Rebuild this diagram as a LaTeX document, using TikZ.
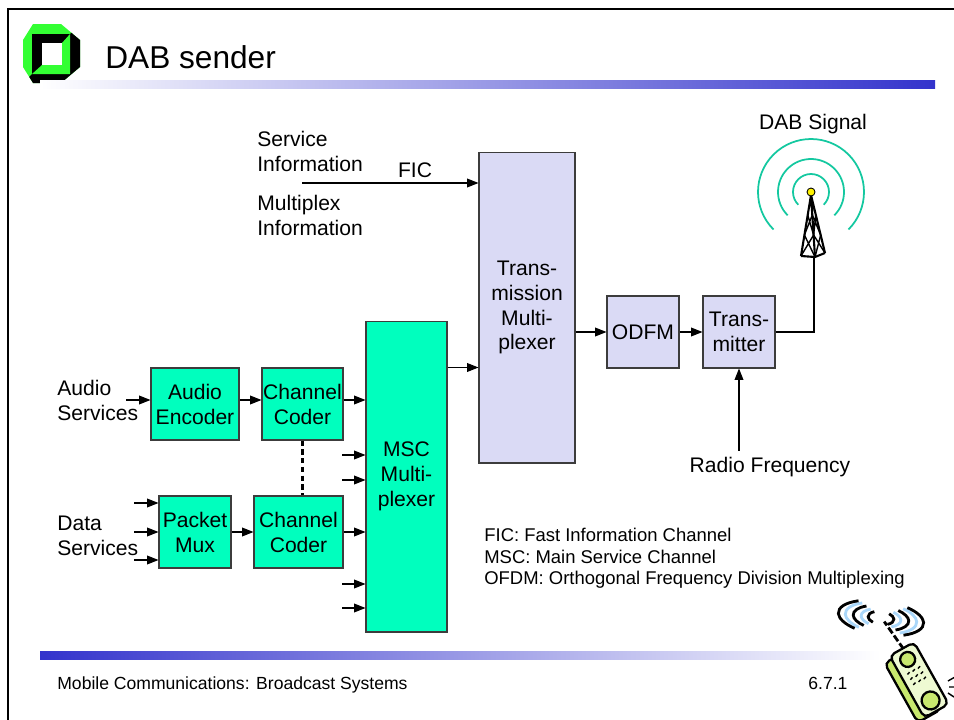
\documentclass[tikz,border=0pt]{standalone}
\usepackage{fontspec}
\setmainfont{Liberation Sans}
\usetikzlibrary{arrows.meta,positioning,calc}

\definecolor{mscgreen}{RGB}{0,255,190}
\definecolor{muxblue}{RGB}{218,218,245}
\definecolor{boxline}{RGB}{60,60,60}
\definecolor{wavegreen}{RGB}{20,200,160}
\definecolor{barblue}{RGB}{51,51,204}
\definecolor{logogreen}{RGB}{51,255,51}
\definecolor{phonelime}{RGB}{200,232,110}
\definecolor{phonepale}{RGB}{238,250,210}
\definecolor{waveblue}{RGB}{170,215,250}

\begin{document}
\begin{tikzpicture}[
  x=0.02cm,y=-0.02cm,
  >={Triangle[length=6.5pt,width=5pt]},
  font=\fontsize{12}{14.2}\selectfont,
  block/.style={draw=boxline, line width=0.6pt, align=center, inner sep=0pt},
  gbox/.style={block, fill=mscgreen},
  pbox/.style={block, fill=muxblue},
  arr/.style={->, line width=0.6pt},
  lbl/.style={align=left, inner sep=0pt},
  plain/.style={anchor=base west, inner sep=0pt}
]
\useasboundingbox (0,0) rectangle (954,720);

% slide frame, logo and title
\draw[line width=1pt] (8,720) -- (8,9) -- (954,9);
\fill[logogreen] (33,24) -- (61,24) -- (80,40) -- (80,67) -- (61,83) -- (33,83) -- (23,67) -- (23,40) -- cycle;
\fill[black] (70,34) -- (71.3,32.7) -- (80,40) -- (80,67) -- (61,83) -- (33,83) -- (29.2,76.9) -- (32,74) -- cycle;
\fill[black] (32,34) rectangle (70,74);
\fill[logogreen] (70,34) -- (70,74) -- (32,74) -- (42,65) -- (62,65) -- (62,43) -- cycle;
\fill[white] (42,43) rectangle (62,65);
\node[plain, font=\fontsize{18}{21}\selectfont] (title) at (105,68) {DAB sender};
\shade[left color=white, right color=barblue] (40,80) rectangle (935,88);

% footer
\shade[left color=barblue, right color=white] (40,651) rectangle (880,659);
\node[plain, font=\fontsize{10}{12}\selectfont] (foot) at (57,689) {Mobile Communications: Broadcast Systems};
\node[plain, font=\fontsize{10}{12}\selectfont] (slide) at (808,689) {6.7.1};

% blocks
\node[gbox, minimum width=1.76cm, minimum height=1.44cm] (enc) at (195,404) {Audio\\Encoder};
\node[gbox, minimum width=1.62cm, minimum height=1.44cm] (cca) at (302.5,404) {Channel\\Coder};
\node[gbox, minimum width=1.44cm, minimum height=1.44cm] (pmux) at (195,532) {Packet\\Mux};
\node[gbox, minimum width=1.78cm, minimum height=1.44cm] (ccd) at (298.5,532) {Channel\\Coder};
\node[gbox, minimum width=1.62cm, minimum height=6.22cm] (msc) at (406.5,476.5) {MSC\\Multi-\\plexer};
\node[pbox, minimum width=1.92cm, minimum height=6.22cm] (tmux) at (527,307.5) {Trans-\\mission\\Multi-\\plexer};
\node[pbox, minimum width=1.44cm, minimum height=1.44cm] (ofdm) at (643,332) {ODFM};
\node[pbox, minimum width=1.44cm, minimum height=1.44cm] (tx) at (739,332) {Trans-\\mitter};

% labels
\node[lbl, anchor=west] (audio) at (57,400) {Audio\\Services};
\node[lbl, anchor=west] (data) at (57,535.5) {Data\\Services};
\node[lbl, anchor=west] (si) at (257,151) {Service\\Information};
\node[lbl, anchor=west] (mi) at (257,215.5) {Multiplex\\Information};
\node (ficlbl) at (415,170) {FIC};
\node (sig) at (813,124) {DAB Signal};
\node (rf) at (770,467) {Radio Frequency};
\node[lbl, anchor=west, font=\fontsize{10.5}{12.2}\selectfont] (legend) at (484,558.5)
  {FIC: Fast Information Channel\\MSC: Main Service Channel\\OFDM: Orthogonal Frequency Division Multiplexing};

% audio path
\coordinate (ain) at (126,400);
\draw[arr] (ain) -- (ain -| enc.west);
\draw[arr] (enc.east |- ain) -- (cca.west |- ain);
\draw[arr] (cca.east |- ain) -- (msc.west |- ain);

% data path
\foreach \y in {503,532,560} {
  \coordinate (din\y) at (134,\y);
  \draw[arr] (din\y) -- (din\y -| pmux.west);
}
\draw[arr] (pmux.east) -- (ccd.west);
\draw[arr] (ccd.east) -- (ccd.east -| msc.west);
\draw[dash pattern=on 3pt off 2pt, line width=1.2pt] (cca.south) -- (cca.south |- ccd.north);

% further MSC inputs
\foreach \y in {455,480,584,608} {
  \coordinate (min\y) at (342,\y);
  \draw[arr] (min\y) -- (min\y -| msc.west);
}

% into the transmission multiplexer and on to the mast
\coordinate (ficin) at (302,183);
\draw[arr] (ficin) -- (ficin -| tmux.west);
\coordinate (mscout) at ($(msc.north east)+(0,47)$);
\draw[arr] (mscout) -- (mscout -| tmux.west);
\draw[arr] (tmux.east |- ofdm.west) -- (ofdm.west);
\draw[arr] (ofdm.east) -- (tx.west);
\draw[arr] (rf.north -| tx.south) -- (tx.south);
\coordinate (mast) at (814,257);
\draw[line width=0.6pt] (tx.east) -| (mast);

% transmitter tower
\draw[line width=1.2pt, line join=round] (801,256) -- (811,195) -- (825,253) (811,195) -- (815,257)
  (801,256) -- (815,257) -- (825,253);
\draw[line width=0.8pt] (807.7,215) -- (813.6,235) (812.3,215) -- (804.4,235)
  (804.4,235) -- (815,257) (813.6,235) -- (801,256)
  (812.3,215) -- (820.7,235) (815.8,215) -- (813.6,235)
  (813.6,235) -- (825,253) (820.7,235) -- (815,257);
\foreach \r in {0.36cm,0.66cm,1.06cm}
  \draw[wavegreen, line width=1pt] (811,192) ++(-45:\r) arc[start angle=-45, end angle=225, radius=\r];
\filldraw[fill=yellow, draw=black, line width=0.5pt] (811,192) circle[radius=4];

% handset
\begin{scope}[shift={(881,618)}, x=1cm, y=1cm, rotate=-8, line width=1.6pt]
  \foreach \a/\b/\c in {0.26/0.13/black,0.4/0.18/waveblue,0.56/0.24/black,0.72/0.3/waveblue,0.86/0.34/black} {
    \draw[\c] ({\a*cos(125)},{\b*sin(125)}) arc[start angle=125, end angle=235, x radius=\a, y radius=\b];
    \draw[\c] ({\a*cos(-55)},{\b*sin(-55)}) arc[start angle=-55, end angle=55, x radius=\a, y radius=\b];
  }
\end{scope}
\begin{scope}[shift={(918,680)}, x=1cm, y=1cm, rotate=29.2, line width=1.3pt]
  \draw[line width=1.6pt, dash pattern=on 4pt off 1.5pt] (0.05,0.68) -- (-0.02,1.35);
  \draw[fill=phonelime, rounded corners=3pt] (-0.42,-0.74) rectangle (0.12,0.62);
  \draw[fill=phonepale, rounded corners=3pt] (-0.26,-0.72) rectangle (0.30,0.70);
  \draw[fill=phonelime] (0.02,0.46) circle[radius=0.15];
  \draw[fill=phonelime] (0.02,-0.48) circle[radius=0.18];
  \foreach \i in {-1,0,1}
    \foreach \j in {0,1,2}
      \draw[line width=0.8pt] ({\i*0.12-0.01},{0.2-\j*0.12}) -- ++(0.06,0.02);
\end{scope}
\begin{scope}[shift={(918,680)}, x=1cm, y=1cm, line width=0.8pt]
  \draw (0.6,-0.02) -- (0.74,0.06) (0.62,-0.14) -- (0.76,-0.14) (0.6,-0.26) -- (0.72,-0.34);
\end{scope}
\end{tikzpicture}
\end{document}
